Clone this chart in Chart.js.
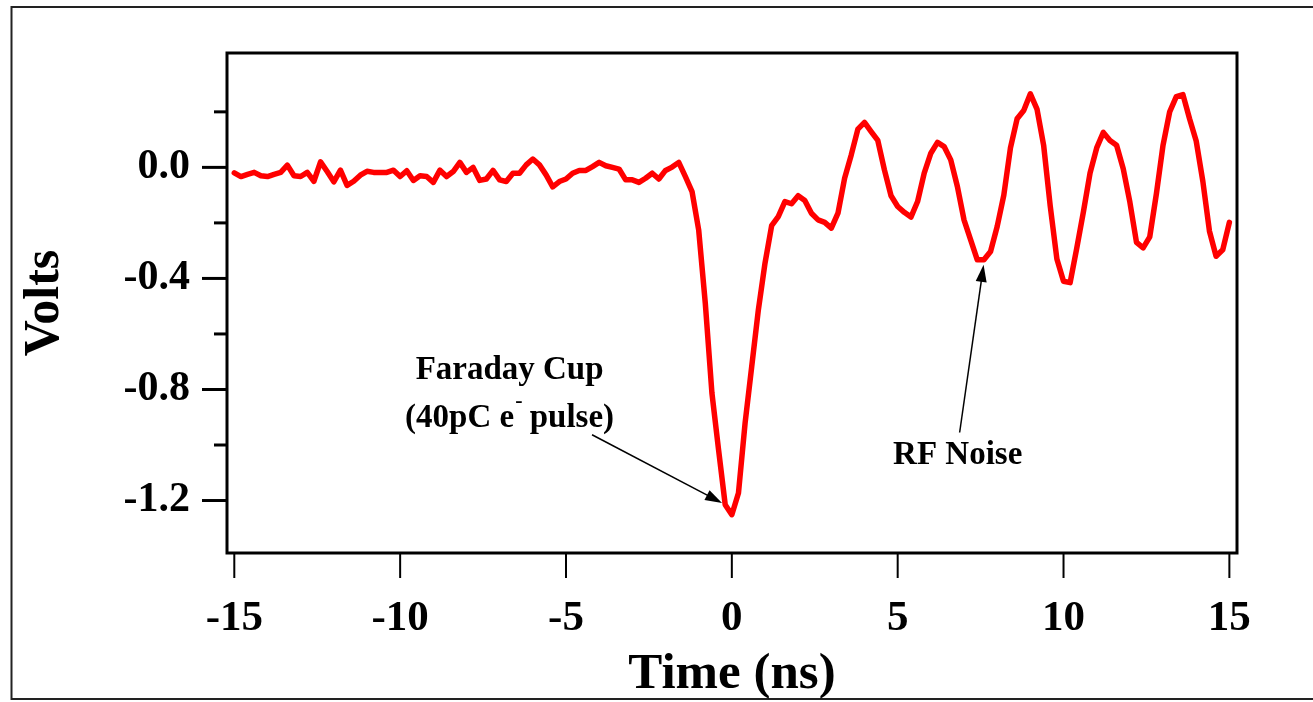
<!DOCTYPE html>
<html lang="en">
<head>
  <meta charset="UTF-8">
  <title>Faraday Cup Signal</title>
  <style>
    body { margin: 0; background: #fff; }
    canvas { display: block; }
  </style>
  <script src="https://cdn.jsdelivr.net/npm/chart.js"></script>
</head>
<body>
  <canvas id="pulseChart" width="1313" height="702"></canvas>
  <script>
    // scope trace, one sample every 0.2 ns
    const timeNs = [
      -15.0, -14.8, -14.6, -14.4, -14.2, -14.0, -13.8, -13.6, -13.4, -13.2,
      -13.0, -12.8, -12.6, -12.4, -12.2, -12.0, -11.8, -11.6, -11.4, -11.2,
      -11.0, -10.8, -10.6, -10.4, -10.2, -10.0, -9.8, -9.6, -9.4, -9.2,
      -9.0, -8.8, -8.6, -8.4, -8.2, -8.0, -7.8, -7.6, -7.4, -7.2,
      -7.0, -6.8, -6.6, -6.4, -6.2, -6.0, -5.8, -5.6, -5.4, -5.2,
      -5.0, -4.8, -4.6, -4.4, -4.2, -4.0, -3.8, -3.6, -3.4, -3.2,
      -3.0, -2.8, -2.6, -2.4, -2.2, -2.0, -1.8, -1.6, -1.4, -1.2,
      -1.0, -0.8, -0.6, -0.4, -0.2, 0.0, 0.2, 0.4, 0.6, 0.8,
      1.0, 1.2, 1.4, 1.6, 1.8, 2.0, 2.2, 2.4, 2.6, 2.8,
      3.0, 3.2, 3.4, 3.6, 3.8, 4.0, 4.2, 4.4, 4.6, 4.8,
      5.0, 5.2, 5.4, 5.6, 5.8, 6.0, 6.2, 6.4, 6.6, 6.8,
      7.0, 7.2, 7.4, 7.6, 7.8, 8.0, 8.2, 8.4, 8.6, 8.8,
      9.0, 9.2, 9.4, 9.6, 9.8, 10.0, 10.2, 10.4, 10.6, 10.8,
      11.0, 11.2, 11.4, 11.6, 11.8, 12.0, 12.2, 12.4, 12.6, 12.8,
      13.0, 13.2, 13.4, 13.6, 13.8, 14.0, 14.2, 14.4, 14.6, 14.8,
      15.0
    ];

    const volts = [
      -0.020, -0.033, -0.025, -0.018, -0.030, -0.033, -0.025, -0.018, 0.008, -0.030,
      -0.033, -0.018, -0.050, 0.020, -0.015, -0.052, -0.010, -0.065, -0.050, -0.028,
      -0.014, -0.018, -0.018, -0.018, -0.010, -0.033, -0.012, -0.047, -0.030, -0.033,
      -0.054, -0.010, -0.033, -0.015, 0.018, -0.018, 0.000, -0.047, -0.042, -0.011,
      -0.045, -0.051, -0.021, -0.021, 0.009, 0.030, 0.009, -0.027, -0.070, -0.051,
      -0.042, -0.021, -0.011, -0.011, 0.003, 0.018, 0.006, 0.000, -0.006, -0.045,
      -0.045, -0.054, -0.039, -0.021, -0.042, -0.011, 0.001, 0.018, -0.033, -0.087,
      -0.225, -0.489, -0.813, -1.017, -1.215, -1.251, -1.173, -0.921, -0.717, -0.513,
      -0.345, -0.210, -0.177, -0.123, -0.131, -0.102, -0.119, -0.165, -0.189, -0.198,
      -0.219, -0.165, -0.039, 0.045, 0.138, 0.162, 0.129, 0.097, -0.009, -0.102,
      -0.141, -0.162, -0.179, -0.123, -0.021, 0.051, 0.090, 0.075, 0.027, -0.069,
      -0.189, -0.261, -0.333, -0.333, -0.303, -0.213, -0.100, 0.070, 0.175, 0.205,
      0.265, 0.210, 0.080, -0.140, -0.330, -0.410, -0.415, -0.290, -0.160, -0.020,
      0.070, 0.126, 0.097, 0.080, -0.005, -0.125, -0.270, -0.290, -0.250, -0.095,
      0.080, 0.200, 0.255, 0.262, 0.175, 0.095, -0.050, -0.230, -0.320, -0.297,
      -0.198
    ];

    const xTickValues = [-15, -10, -5, 0, 5, 10, 15];
    const yTickValues = [0.2, 0.0, -0.2, -0.4, -0.6, -0.8, -1.0, -1.2];
    const yLabelValues = [0.0, -0.4, -0.8, -1.2];

    const SERIF = '"Liberation Serif", "Times New Roman", serif';

    // callouts, placed in data units (ns, V)
    const callouts = {
      faraday: { t: -6.70, line1: -0.7615, line2: -0.9344 },
      rf: { t: 6.81, base: -1.068 },
      arrows: [
        { from: [-4.215, -0.963], to: [-0.295, -1.209] },
        { from: [6.868, -0.955], to: [7.59, -0.351] }
      ]
    };

    const isLabeled = v => yLabelValues.some(l => Math.abs(l - v) < 1e-6);

    // outer box, plot frame and tick marks
    const framePlugin = {
      id: 'frame',
      beforeDraw(chart) {
        const c = chart.ctx;
        c.save();
        c.fillStyle = '#fff';
        c.fillRect(0, 0, chart.width, chart.height);
        c.strokeStyle = '#222';
        c.lineWidth = 2;
        c.strokeRect(11.5, 7, chart.width + 20, 692);
        c.restore();
      },
      afterDraw(chart) {
        const { ctx: c, chartArea: a, scales: { x, y } } = chart;
        c.save();
        c.strokeStyle = '#000';
        c.lineWidth = 3;
        c.strokeRect(a.left, a.top, a.right - a.left, a.bottom - a.top);

        y.ticks.forEach(t => {
          const py = y.getPixelForValue(t.value);
          const len = isLabeled(t.value) ? 25 : 13;
          c.beginPath();
          c.moveTo(a.left - len, py);
          c.lineTo(a.left, py);
          c.stroke();
        });

        c.lineWidth = 2;
        x.ticks.forEach(t => {
          const px = x.getPixelForValue(t.value);
          c.beginPath();
          c.moveTo(px, a.bottom);
          c.lineTo(px, a.bottom + 25);
          c.stroke();
        });
        c.restore();
      }
    };

    function drawArrow(c, x0, y0, x1, y1) {
      const ang = Math.atan2(y1 - y0, x1 - x0);
      const len = 17, half = 5.5;
      c.beginPath();
      c.moveTo(x0, y0);
      c.lineTo(x1 - Math.cos(ang) * len * 0.8, y1 - Math.sin(ang) * len * 0.8);
      c.stroke();
      c.beginPath();
      c.moveTo(x1, y1);
      c.lineTo(x1 - Math.cos(ang) * len - Math.sin(ang) * half, y1 - Math.sin(ang) * len + Math.cos(ang) * half);
      c.lineTo(x1 - Math.cos(ang) * len + Math.sin(ang) * half, y1 - Math.sin(ang) * len - Math.cos(ang) * half);
      c.closePath();
      c.fill();
    }

    const calloutPlugin = {
      id: 'callouts',
      afterDraw(chart) {
        const { ctx: c, scales: { x, y } } = chart;
        c.save();
        c.fillStyle = '#000';
        c.strokeStyle = '#000';
        c.textBaseline = 'alphabetic';

        // Faraday cup label
        const fx = x.getPixelForValue(callouts.faraday.t);
        c.font = 'bold 33px ' + SERIF;
        c.textAlign = 'center';
        c.fillText('Faraday Cup', fx, y.getPixelForValue(callouts.faraday.line1));

        const base2 = y.getPixelForValue(callouts.faraday.line2);
        const partA = '(40pC e', partB = '-', partC = ' pulse)';
        c.textAlign = 'left';
        c.font = 'bold 33px ' + SERIF;
        const wA = c.measureText(partA).width;
        const wC = c.measureText(partC).width;
        c.font = 'bold 22px ' + SERIF;
        const wB = c.measureText(partB).width;
        let sx = fx - (wA + wB + wC) / 2;
        c.font = 'bold 33px ' + SERIF;
        c.fillText(partA, sx, base2);
        c.font = 'bold 22px ' + SERIF;
        c.fillText(partB, sx + wA + 1, base2 - 20);
        c.font = 'bold 33px ' + SERIF;
        c.fillText(partC, sx + wA + wB, base2);

        // RF noise label
        c.textAlign = 'center';
        c.fillText('RF Noise', x.getPixelForValue(callouts.rf.t), y.getPixelForValue(callouts.rf.base));

        c.lineWidth = 1.5;
        callouts.arrows.forEach(a => {
          drawArrow(c,
            x.getPixelForValue(a.from[0]), y.getPixelForValue(a.from[1]),
            x.getPixelForValue(a.to[0]), y.getPixelForValue(a.to[1]));
        });
        c.restore();
      }
    };

    const points = timeNs.map((t, i) => ({ x: t, y: volts[i] }));

    new Chart(document.getElementById('pulseChart'), {
      type: 'line',
      data: {
        datasets: [{
          data: points,
          borderColor: '#ff0000',
          borderWidth: 5.5,
          pointRadius: 0,
          tension: 0,
          fill: false,
          borderJoinStyle: 'round',
          borderCapStyle: 'round'
        }]
      },
      options: {
        responsive: false,
        animation: false,
        layout: { padding: { left: 0, top: 53, right: 76, bottom: 0 } },
        plugins: {
          legend: { display: false },
          tooltip: { enabled: false }
        },
        scales: {
          x: {
            type: 'linear',
            min: -15.22,
            max: 15.23,
            afterBuildTicks: s => { s.ticks = xTickValues.map(v => ({ value: v })); },
            afterFit: s => { s.height = 149; },
            border: { display: false },
            grid: { display: true, drawOnChartArea: false, drawTicks: true, tickLength: 25, tickColor: 'rgba(0,0,0,0)' },
            ticks: {
              autoSkip: false,
              maxRotation: 0,
              padding: 15,
              color: '#000',
              font: { family: SERIF, size: 43, weight: 'bold' },
              callback: v => String(v)
            },
            title: {
              display: true,
              text: 'Time (ns)',
              color: '#000',
              padding: { top: 0, bottom: -3 },
              font: { family: SERIF, size: 51, weight: 'bold' }
            }
          },
          y: {
            min: -1.389,
            max: 0.412,
            afterBuildTicks: s => { s.ticks = yTickValues.map(v => ({ value: v })); },
            afterFit: s => { s.width = 227; },
            border: { display: false },
            grid: { display: true, drawOnChartArea: false, drawTicks: true, tickLength: 25, tickColor: 'rgba(0,0,0,0)' },
            ticks: {
              autoSkip: false,
              padding: 12,
              color: '#000',
              font: { family: SERIF, size: 42, weight: 'bold' },
              callback: v => isLabeled(v) ? (Math.round(v * 10) / 10).toFixed(1) : ''
            },
            title: {
              display: true,
              text: 'Volts',
              color: '#000',
              padding: { top: 15, bottom: 0 },
              font: { family: SERIF, size: 50, weight: 'bold' }
            }
          }
        }
      },
      plugins: [framePlugin, calloutPlugin]
    });
  </script>
</body>
</html>
